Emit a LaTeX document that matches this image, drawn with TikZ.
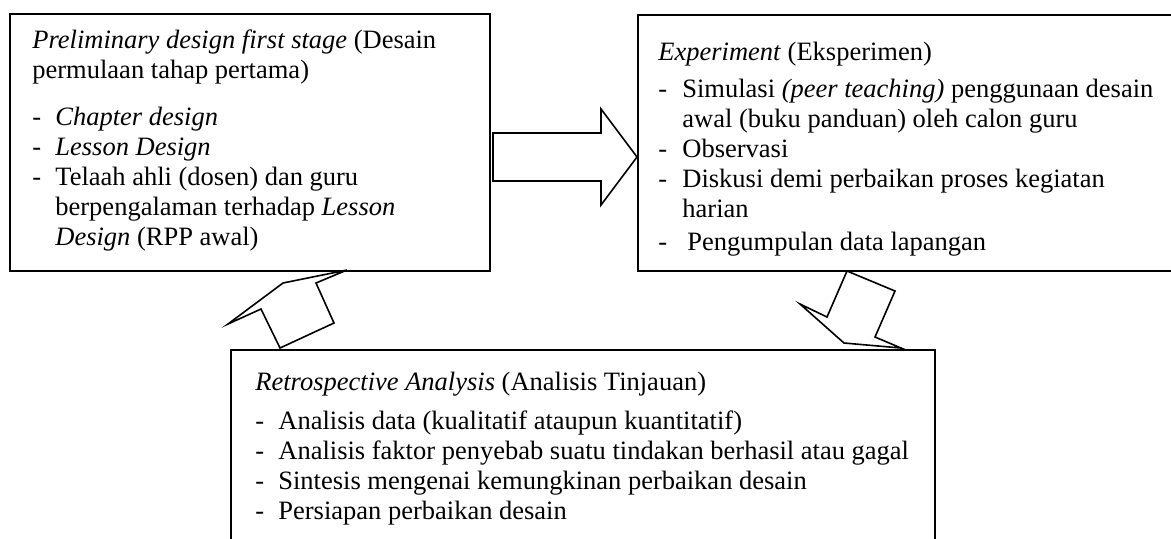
\documentclass[tikz,border=0pt]{standalone}
\usepackage{fontspec}
\setmainfont{Liberation Serif}
\usepackage{tikz}
\usetikzlibrary{calc,positioning}
\newlength{\rs}
\newcommand{\dashA}{\makebox[11.5pt][l]{-}}
\newcommand{\contA}{\hspace*{11.5pt}}
\newcommand{\dashB}{\makebox[12pt][l]{-}}
\newcommand{\contB}{\hspace*{12pt}}

\begin{document}
\begin{tikzpicture}
    [   box/.style = {draw, line width=1pt, inner sep=0pt, anchor=north west},
        txt/.style = {align=left, inner sep=0pt, anchor=base west,
                      font=\fontsize{13.25}{15}\selectfont},
        blockarrow/.style = {draw, fill=white, line width=0.8pt, line join=miter}
    ]
    \setlength{\rs}{0.5pt}
    \useasboundingbox (0\rs,0\rs) rectangle (1171\rs,-538\rs);
    \clip (0\rs,0\rs) rectangle (1171\rs,-538\rs);
    % Preliminary design
    \node[box, minimum width=480\rs, minimum height=257\rs] (prelim) at (9\rs,-13\rs) {};
    % (anchored at the baseline of the last line)
    \node[txt] (prelimtext) at (32\rs,-245\rs)
        {\textit{Preliminary design first stage} (Desain\\
         permulaan tahap pertama)\\[8.5pt]
         \dashA\textit{Chapter design}\\
         \dashA\textit{Lesson Design}\\
         \dashA Telaah ahli (dosen) dan guru\\
         \contA berpengalaman terhadap \textit{Lesson}\\
         \contA\textit{Design} (RPP awal)};
    % Experiment
    \node[box, minimum width=545\rs, minimum height=256\rs] (experiment) at (637\rs,-14\rs) {};
    \node[txt] (exptext) at (658\rs,-250\rs)
        {\textit{Experiment} (Eksperimen)\\[3.5pt]
         \dashB Simulasi \textit{(peer teaching)} penggunaan desain\\
         \contB awal (buku panduan) oleh calon guru\\
         \dashB Observasi\\
         \dashB Diskusi demi perbaikan proses kegiatan\\
         \contB harian\\[1.5pt]
         \makebox[14.5pt][l]{-}Pengumpulan data lapangan};
    % Retrospective analysis
    \node[box, minimum width=704\rs, minimum height=211\rs] (retro) at (230\rs,-349\rs) {};
    \node[txt] (retrotext) at (255\rs,-519\rs)
        {\textit{Retrospective Analysis} (Analisis Tinjauan)\\[4.5pt]
         \dashA Analisis data (kualitatif ataupun kuantitatif)\\
         \dashA Analisis faktor penyebab suatu tindakan berhasil atau gagal\\
         \dashA Sintesis mengenai kemungkinan perbaikan desain\\
         \dashA Persiapan perbaikan desain};
    % Arrows
    \draw[blockarrow] (493\rs,-133\rs) -- (601\rs,-133\rs) -- (601\rs,-109\rs)
        -- (637\rs,-157\rs) -- (601\rs,-205\rs) -- (601\rs,-181\rs)
        -- (493\rs,-181\rs) -- cycle;
    \draw[blockarrow] (847\rs,-271\rs) -- (895\rs,-291\rs) -- (875\rs,-337\rs)
        -- (901\rs,-348\rs) -- (844\rs,-343\rs) -- (800\rs,-304\rs)
        -- (827\rs,-317\rs) -- cycle;
    \draw[blockarrow] (347\rs,-270\rs) -- (283\rs,-283\rs) -- (228\rs,-324\rs)
        -- (261\rs,-309\rs) -- (280\rs,-348\rs) -- (334\rs,-323\rs)
        -- (316\rs,-283\rs) -- cycle;
\end{tikzpicture}
\end{document}
